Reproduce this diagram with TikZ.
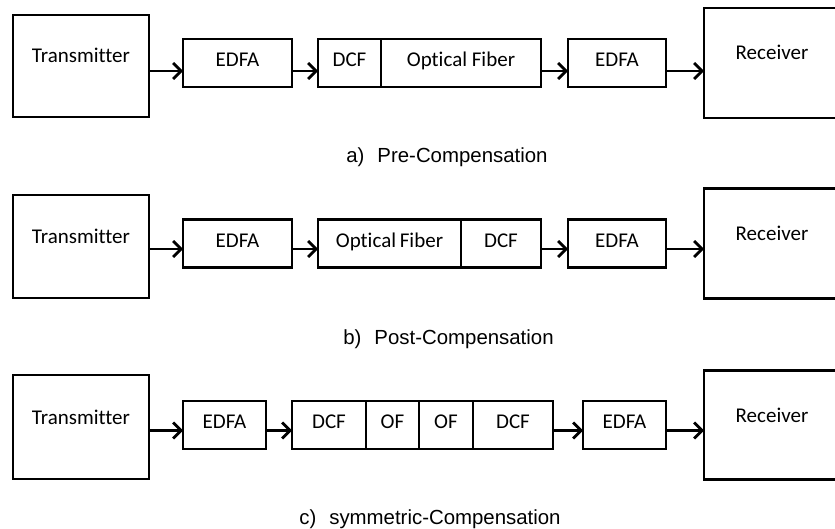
\documentclass[tikz,border=0pt]{standalone}
\usepackage{fontspec}
\setmainfont[Ligatures=NoCommon]{Carlito}
\newfontfamily\capfont{Liberation Sans}
\usetikzlibrary{positioning,arrows.meta}
\tikzstyle{term} = [rectangle, draw, line width=2.4bp, outer sep=0pt, inner sep=0pt, minimum width=136bp, text height=13bp, text depth=19bp]
\tikzstyle{unit} = [rectangle, draw, line width=2.4bp, outer sep=0pt, inner sep=0pt, minimum height=48bp, text height=13bp, text depth=5.5bp]
\tikzstyle{legend} = [anchor=base west, inner sep=0pt, font=\capfont\fontsize{20.4bp}{24bp}\selectfont]

\begin{document}
\begin{tikzpicture}[->,>={Straight Barb[length=8bp,width=16bp]},line width=2.7bp,x=1bp,y=-1bp,node distance=26bp,font=\fontsize{21bp}{25bp}\selectfont]
  \useasboundingbox (0,0) rectangle (835,529);

  % a) pre-compensation
  \node[term, minimum height=102bp] (txa) at (81,66) {Transmitter};
  \node[unit, minimum width=109bp] (ampa) [right=34bp of txa, yshift=3bp] {EDFA};
  \node[unit, minimum width=63bp] (dcfa) [right=of ampa] {DCF};
  \node[unit, minimum width=160bp] (ofa) [right=0pt of dcfa] {Optical Fiber};
  \node[unit, minimum width=98bp] (ampb) [right=27bp of ofa] {EDFA};
  \node[term, minimum height=110bp] (rxa) [right=38bp of ampb] {Receiver};
  \node[legend] (capa) at (345,162.5) {a)\hspace{13bp}Pre-Compensation};
  \coordinate (lva) at (0,71);

  \path (txa.east |- lva) edge (ampa.west |- lva);
  \path (ampa.east |- lva) edge (dcfa.west |- lva);
  \path (ofa.east |- lva) edge (ampb.west |- lva);
  \path (ampb.east |- lva) edge (rxa.west |- lva);

  % b) post-compensation
  \node[term, minimum height=103bp] (txb) at (81,246.5) {Transmitter};
  \node[unit, minimum width=109bp] (ampc) [right=34bp of txb, yshift=3bp] {EDFA};
  \node[unit, minimum width=143bp] (ofb) [right=of ampc] {Optical\kern-1bp{} Fiber};
  \node[unit, minimum width=80bp] (dcfb) [right=0pt of ofb] {DCF};
  \node[unit, minimum width=98bp] (ampd) [right=27bp of dcfb] {EDFA};
  \node[term, minimum height=110bp] (rxb) [right=38bp of ampd] {Receiver};
  \node[legend] (capb) at (342,344) {b)\hspace{13bp}Post-Compensation};
  \coordinate (lvb) at (0,249);

  \path (txb.east |- lvb) edge (ampc.west |- lvb);
  \path (ampc.east |- lvb) edge (ofb.west |- lvb);
  \path (dcfb.east |- lvb) edge (ampd.west |- lvb);
  \path (ampd.east |- lvb) edge (rxb.west |- lvb);

  % c) symmetric compensation
  \node[term, minimum height=104bp] (txc) at (81,427) {Transmitter};
  \node[unit, minimum width=83bp] (ampe) [right=34bp of txc, yshift=2bp] {EDFA};
  \node[unit, minimum width=74bp] (dcfc) [right=of ampe] {DCF};
  \node[unit, minimum width=53bp] (ofc) [right=0pt of dcfc] {OF};
  \node[unit, minimum width=54bp] (ofd) [right=0pt of ofc] {OF};
  \node[unit, minimum width=80bp] (dcfd) [right=0pt of ofd] {DCF};
  \node[unit, minimum width=83bp] (ampf) [right=30bp of dcfd] {EDFA};
  \node[term, minimum height=109bp] (rxc) [right=38bp of ampf] {Receiver};
  \node[legend] (capc) at (298,524.5) {c)\hspace{13bp}symmetric-Compensation};
  \coordinate (lvc) at (0,430.5);

  \path (txc.east |- lvc) edge (ampe.west |- lvc);
  \path (ampe.east |- lvc) edge (dcfc.west |- lvc);
  \path (dcfd.east |- lvc) edge (ampf.west |- lvc);
  \path (ampf.east |- lvc) edge (rxc.west |- lvc);
\end{tikzpicture}
\end{document}
